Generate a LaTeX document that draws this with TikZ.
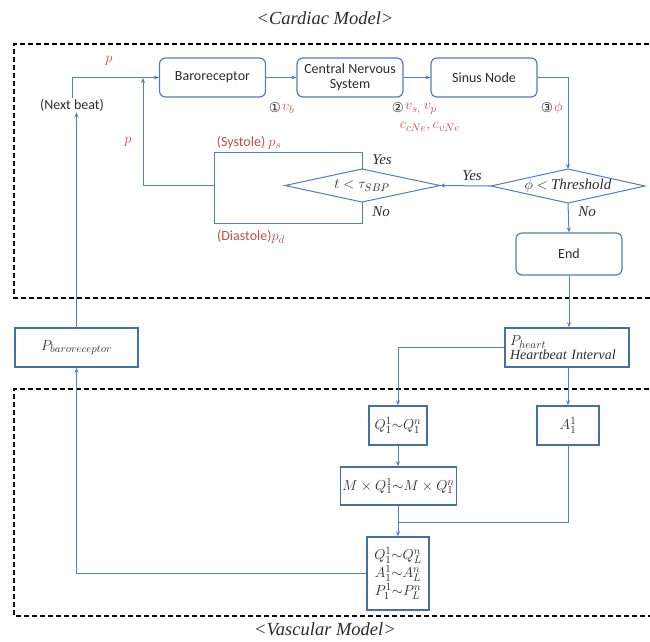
\documentclass[tikz,border=0pt]{standalone}
\usepackage{fontspec}
\setmainfont{Carlito}
\newfontfamily\timesf{Liberation Serif}
\newfontfamily\dejavu{DejaVu Sans}
\DeclareMathSizes{14}{14}{10.5}{8}
\usetikzlibrary{arrows.meta}
\definecolor{lblue}{RGB}{79,129,189}
\definecolor{dblue}{RGB}{70,110,170}
\definecolor{lred}{RGB}{192,80,77}
\definecolor{txt}{RGB}{45,45,45}
\begin{document}
\begin{tikzpicture}[x=1pt,y=-1pt, font=\fontsize{14}{16.8}\selectfont,
  flow/.style={draw=lblue, line width=1pt},
  arr/.style={flow, -{Stealth[length=5pt,width=4pt]}},
  rbox/.style={draw=lblue, line width=1.2pt, rounded corners=6pt, minimum width=106pt, minimum height=39pt, text=txt, align=center, inner sep=2pt},
  sbox/.style={draw=dblue, line width=1.4pt, text=txt, align=center, inner sep=2pt},
  dtext/.style={text=txt, inner sep=1pt},
  lab/.style={text=lred, inner sep=0pt},
  yn/.style={text=txt, inner sep=0pt, font=\timesf\itshape\fontsize{15}{17}\selectfont},
  circ/.style={font=\dejavu\fontsize{13.5}{15}\selectfont, text=txt, inner sep=0pt},
  dbox/.style={draw=black, line width=1.3pt, dash pattern=on 5pt off 3pt},
  ttl/.style={font=\timesf\itshape\fontsize{18.5}{21}\selectfont, text=txt}]

\useasboundingbox (0,0) rectangle (650,641);
\fill[white] (0,0) rectangle (650,641);

% dashed regions
\draw[dbox] (665,44) -- (14,44) -- (14,298) -- (665,298);
\draw[dbox] (665,389) -- (14,389) -- (14,616) -- (665,616);

% titles
\node[ttl] (t1) at (325,18) {<Cardiac Model>};
\node[ttl] (t2) at (325,629) {<Vascular Model>};

% cardiac nodes
\node[rbox] (baro) at (212.5,77.5) {Baroreceptor};
\node[rbox] (cns) at (350,77.5) {Central Nervous\\[-2pt]System};
\node[rbox] (sinus) at (484,77.5) {Sinus Node};
\node[rbox, minimum height=42pt] (endn) at (569,254) {End};
\node[text=txt, inner sep=1pt] (next) at (72,105) {(Next beat)};

% decision diamonds (text + outline through named corners)
\node[dtext] (bigd) at (568,186) {$\phi <$ {\timesf\itshape\fontsize{15}{17}\selectfont Threshold}};
\coordinate (bigdN) at (568,169);
\coordinate (bigdS) at (568,203);
\coordinate (bigdW) at (491,186);
\coordinate (bigdE) at (645,186);
\draw[flow] (bigdN) -- (bigdE) -- (bigdS) -- (bigdW) -- cycle;
\node[dtext] (smd) at (362,185.5) {$t < \tau_{SBP}$};
\coordinate (smdN) at (362,169);
\coordinate (smdS) at (362,202);
\coordinate (smdW) at (285,185.5);
\coordinate (smdE) at (440,185.5);
\draw[flow] (smdN) -- (smdE) -- (smdS) -- (smdW) -- cycle;

% middle / vascular nodes
\node[sbox, minimum width=123pt, minimum height=39pt] (pbaro) at (76.5,347.5) {$P_{baroreceptor}$};
\node[sbox, text width=114pt, inner xsep=5pt, minimum height=39pt, align=left] (pheart) at (567,347.5) {$P_{heart}$\\[-3pt]{\timesf\itshape Heartbeat Interval}};
\node[sbox, minimum width=58pt, minimum height=39pt] (q) at (398,425.5) {$Q_1^1{\sim}Q_1^n$};
\node[sbox, minimum width=62pt, minimum height=39pt] (a) at (568,425.5) {$A_1^1$};
\node[sbox, minimum width=115pt, minimum height=38pt] (m) at (398.5,486) {$M\times Q_1^1{\sim}M\times Q_1^n$};
\node[sbox, minimum width=62pt, minimum height=73pt, font=\fontsize{14}{18}\selectfont] (fin) at (398,573.5) {$Q_1^1{\sim}Q_L^n$\\$A_1^1{\sim}A_L^n$\\$P_1^1{\sim}P_L^n$};

% helper coordinates
\coordinate (btl) at (214,152);
\coordinate (bbl) at (214,223);
\coordinate (bml) at (214,185.5);
\coordinate (lp) at (143,78);
\coordinate (mj) at (398,522);

% connectors
\draw[arr] (baro) -- (cns);
\draw[arr] (cns) -- (sinus);
\draw[arr] (next.north) |- (baro.west);
\draw[arr] (sinus.east) -| (bigdN);
\draw[arr] (bigdW) -- (smdE);
\draw[arr] (bigdS) -- (endn.north);
\draw[flow] (smdN) |- (btl) -- (bbl) -| (smdS);
\draw[arr] (bml) -| (lp);
\draw[arr] (endn.south) -- (endn.south |- pheart.north);
\draw[arr] (pbaro.north) -- (pbaro.north |- next.south);
\draw[arr] (pheart.west) -| (q.north);
\draw[arr] (a.north |- pheart.south) -- (a.north);
\draw[arr] (q.south) -- (q.south |- m.north);
\draw[arr] (fin.north |- m.south) -- (fin.north);
\draw[flow] (a.south) |- (mj);
\draw[arr] (fin.west) -| (pbaro.south);

% labels
\node[lab] (lp1) at (109,61) {$p$};
\node[lab] (lp2) at (128,142) {$p$};
\node[circ] (c1) at (275,108) {①};
\node[lab, anchor=west] (l1) at (282,109) {$v_b$};
\node[circ] (c2) at (398,108) {②};
\node[lab, anchor=west] (l2) at (405,109) {$v_{s,}\ v_p$};
\node[lab] (l2b) at (430,127) {$c_{cNe}, c_{vNe}$};
\node[circ] (c3) at (547,108) {③};
\node[lab, anchor=west] (l3) at (554,108) {$\phi$};
\node[lab] (sys) at (249,143) {(Systole) $p_s$};
\node[lab] (dia) at (251,237) {(Diastole)$p_d$};
\node[yn] (y1) at (472,176) {Yes};
\node[yn] (y2) at (382,160) {Yes};
\node[yn] (n1) at (381,212) {No};
\node[yn] (n2) at (587,212) {No};
\end{tikzpicture}
\end{document}
